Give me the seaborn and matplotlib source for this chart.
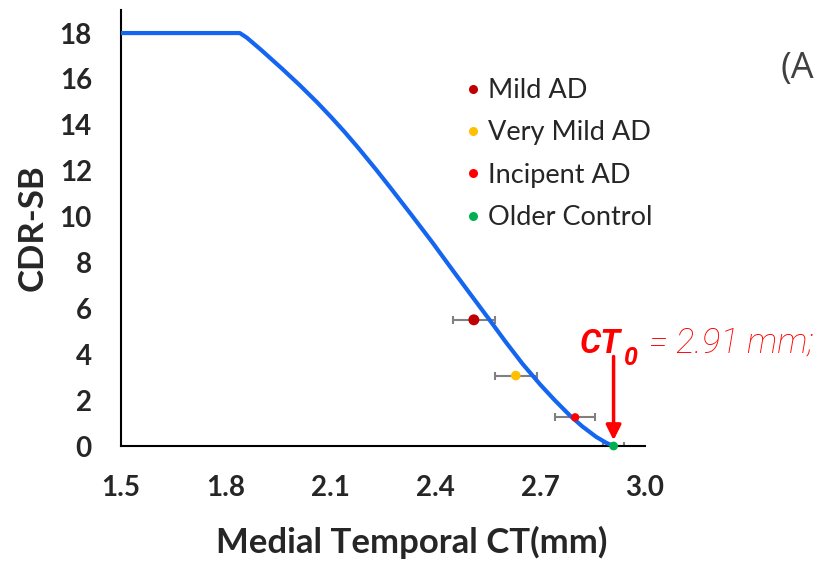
import numpy as np
import pandas as pd
import matplotlib
matplotlib.use("Agg")
import matplotlib.pyplot as plt
import seaborn as sns

# Fitted curve
curve_ct = [1.50, 1.70, 1.84, 1.86, 1.90, 1.96, 2.01, 2.06, 2.10, 2.14, 2.18,
            2.23, 2.27, 2.33, 2.39, 2.45, 2.50, 2.55, 2.60, 2.65, 2.70, 2.74,
            2.785, 2.82, 2.86, 2.89, 2.91]
curve_cdr = [18.0, 18.0, 18.0, 17.8, 17.28, 16.46, 15.75, 15.0, 14.36, 13.69, 12.98,
             12.05, 11.28, 10.1, 8.9, 7.65, 6.62, 5.6, 4.56, 3.57, 2.68, 2.02,
             1.33, 0.86, 0.4, 0.13, 0.0]

# Group means with horizontal error bars
groups = ["Mild AD", "Very Mild AD", "Incipent AD", "Older Control"]
group_ct = [2.51, 2.63, 2.80, 2.91]
group_cdr = [5.5, 3.07, 1.25, 0.0]
group_err = [0.06, 0.06, 0.057, 0.03]
group_colors = ["#C00000", "#FFC000", "#FF0000", "#00B050"]
group_sizes = [62, 48, 36, 40]

x_ticks = [1.5, 1.8, 2.1, 2.4, 2.7, 3.0]
y_ticks = [0, 2, 4, 6, 8, 10, 12, 14, 16, 18]

sns.set_style("white")
plt.rcParams['font.family'] = ['Lato', 'DejaVu Sans']

fig = plt.figure(figsize=(8.2, 5.62), dpi=100)
ax = fig.add_axes([0.1476, 0.2064, 0.639, 0.7756])

curve_df = pd.DataFrame({"ct": curve_ct, "cdr": curve_cdr})
sns.lineplot(data=curve_df, x="ct", y="cdr", sort=False, color="#1466F0",
             lw=3, ax=ax, zorder=3)

ax.errorbar(group_ct, group_cdr, xerr=group_err, fmt="none", ecolor="#808080",
            elinewidth=1.5, capsize=3, capthick=1.5, zorder=2)

pts = pd.DataFrame({"ct": group_ct, "cdr": group_cdr, "group": groups})
sns.scatterplot(data=pts, x="ct", y="cdr", hue="group", size="group",
                palette=dict(zip(groups, group_colors)),
                sizes=dict(zip(groups, group_sizes)),
                edgecolor="none", ax=ax, zorder=4, clip_on=False)

leg = ax.legend(loc="upper left", bbox_to_anchor=(0.625, 0.869), frameon=False,
                fontsize=19.5, handletextpad=0.05, labelspacing=0.64,
                handlelength=1.0, borderaxespad=0)
for h in leg.legend_handles:
    if hasattr(h, "set_sizes"):
        h.set_sizes([40])
    else:
        h.set_markersize(6.5)

ax.set_xlim(1.5, 3.0)
ax.set_ylim(0, 19)
ax.set_xticks(x_ticks)
ax.set_yticks(y_ticks)
ax.set_xticklabels([f"{v:.1f}" for v in x_ticks])
for spine in ["top", "right"]:
    ax.spines[spine].set_visible(False)
for spine in ["left", "bottom"]:
    ax.spines[spine].set_color("black")
    ax.spines[spine].set_linewidth(1.5)
ax.tick_params(axis="both", direction="out", length=7, width=1.5,
               color="black", labelsize=20)
ax.tick_params(axis="x", pad=14)
ax.tick_params(axis="y", pad=14)
for lab in ax.get_xticklabels() + ax.get_yticklabels():
    lab.set_fontweight("bold")

ax.set_xlabel("Medial Temporal CT(mm)", fontsize=25, fontweight="bold",
              labelpad=18)
ax.xaxis.label.set_x(0.555)
ax.set_ylabel("CDR-SB", fontsize=25, fontweight="bold", labelpad=8)

# CT0 arrow and label
ax.annotate("", xy=(2.91, 0.25), xytext=(2.91, 3.9),
            arrowprops=dict(arrowstyle="-|>,head_length=0.9,head_width=0.45",
                            color="#FF0000", lw=2.5, shrinkA=0, shrinkB=0))
fig.text(0.707, 0.372, "CT", color="#FF0000", fontsize=24, fontweight="bold",
         style="italic", family=["Roboto", "DejaVu Sans"])
fig.text(0.760, 0.350, "0", color="#FF0000", fontsize=18, fontweight="bold",
         style="italic", family=["Roboto", "DejaVu Sans"])
fig.text(0.792, 0.372, "= 2.91 mm;", color="#FF0000", fontsize=25,
         fontweight="light", style="italic", family=["Roboto", "DejaVu Sans"])

fig.text(0.952, 0.862, "(A", color="#404040", fontsize=26,
         family=["Open Sans", "DejaVu Sans"])

fig.savefig("out.png", dpi=100)
